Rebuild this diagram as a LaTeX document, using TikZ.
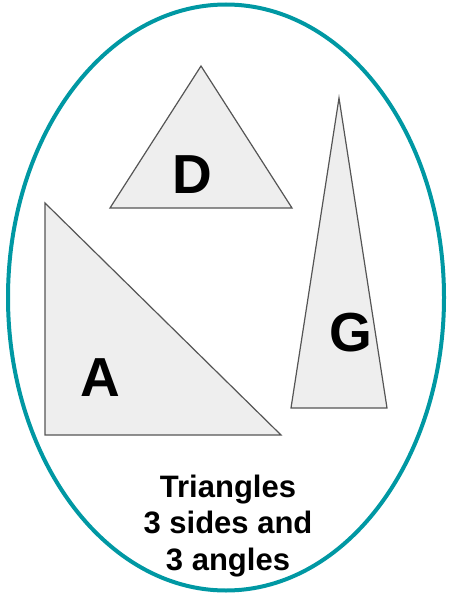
\documentclass[tikz,border=0pt]{standalone}
\usepackage{fontspec}
\setmainfont{Liberation Sans}
\definecolor{teal1}{RGB}{0,152,163}
\definecolor{trifill}{RGB}{238,238,238}
\definecolor{triedge}{RGB}{85,85,85}
\tikzset{
  tri/.style={fill=trifill, draw=triedge, line width=1.2pt, line join=miter},
  biglabel/.style={font=\fontsize{55}{60}\selectfont\bfseries, inner sep=0pt},
  caption/.style={font=\fontsize{31}{36.5}\selectfont\bfseries, align=center, inner sep=0pt}
}
\begin{document}
\begin{tikzpicture}[x=1pt,y=-1pt]
\useasboundingbox (0,0) rectangle (450,594);
\draw[teal1, line width=4pt] (226,297.5) ellipse [x radius=218, y radius=293];
\coordinate (d1) at (201,66); \coordinate (d2) at (292,208); \coordinate (d3) at (110,208);
\draw[tri] (d1) -- (d2) -- (d3) -- cycle;
\coordinate (a1) at (45,203); \coordinate (a2) at (281,435); \coordinate (a3) at (45,435);
\draw[tri] (a1) -- (a2) -- (a3) -- cycle;
\coordinate (g1) at (339,98); \coordinate (g2) at (387,408); \coordinate (g3) at (291,408);
\draw[tri] (g1) -- (g2) -- (g3) -- cycle;
\node[biglabel, anchor=base] (D) at (192,193) {D};
\node[biglabel, anchor=base] (A) at (100,396) {A};
\node[biglabel, anchor=base] (G) at (351,351) {G};
\node[caption, anchor=base] (cap) at (228,570) {Triangles\\3 sides and\\3 angles};
\end{tikzpicture}
\end{document}
